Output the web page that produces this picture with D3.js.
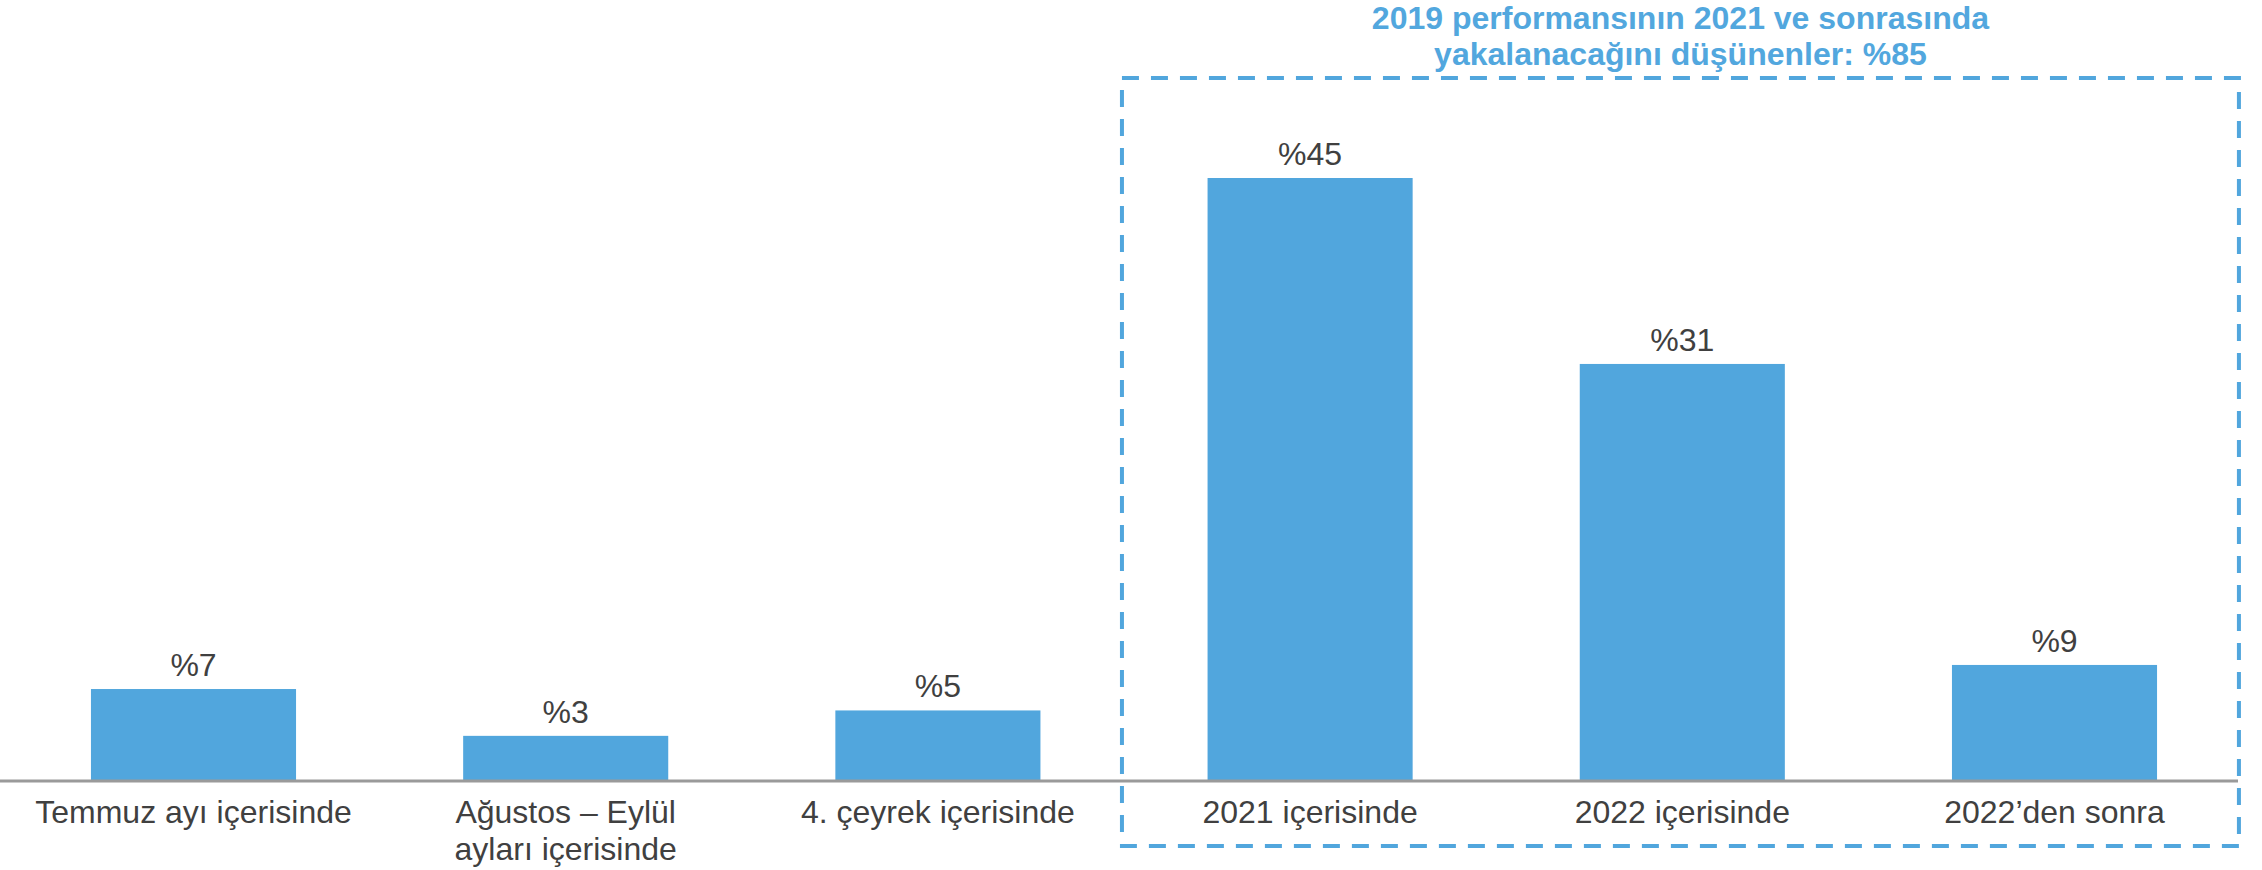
<!DOCTYPE html>
<meta charset="utf-8">
<style>

body {
  margin: 0;
  background: #fff;
}

.value,
.cat {
  font: 32px "Liberation Sans", Arial, sans-serif;
  fill: #404040;
  text-anchor: middle;
}

.title {
  font: bold 32px "Liberation Sans", Arial, sans-serif;
  fill: #52a7de;
  text-anchor: middle;
}

</style>
<svg width="2262" height="870"></svg>
<script src="https://d3js.org/d3.v7.min.js"></script>
<script>

var categories = [
  ["Temmuz ayı içerisinde"],
  ["Ağustos – Eylül", "ayları içerisinde"],
  ["4. çeyrek içerisinde"],
  ["2021 içerisinde"],
  ["2022 içerisinde"],
  ["2022’den sonra"]
];
var values = [6.8, 3.3, 5.2, 45, 31.1, 8.6];
var titleLines = ["2019 performansının 2021 ve sonrasında", "yakalanacağını düşünenler: %85"];

var svg = d3.select("svg"),
    baseline = 780,
    blue = "#51a6dd";

var x = d3.scaleBand()
    .domain(d3.range(categories.length))
    .range([7.4, 2240.6])
    .paddingInner(0.449)
    .paddingOuter(0.2245);

var y = d3.scaleLinear()
    .domain([0, 45])
    .range([baseline, 178]);

// bars
svg.append("g").selectAll("rect")
    .data(values)
  .enter().append("rect")
    .attr("x", function(d, i) { return x(i); })
    .attr("y", function(d) { return y(d); })
    .attr("width", x.bandwidth())
    .attr("height", function(d) { return baseline - y(d); })
    .attr("fill", blue);

// value labels
svg.append("g").selectAll("text")
    .data(values)
  .enter().append("text")
    .attr("class", "value")
    .attr("x", function(d, i) { return x(i) + x.bandwidth() / 2; })
    .attr("y", function(d) { return y(d) - 13; })
    .text(function(d) { return "%" + Math.round(d); });

// baseline
svg.append("line")
    .attr("x1", 0)
    .attr("x2", 2238)
    .attr("y1", baseline + 1)
    .attr("y2", baseline + 1)
    .attr("stroke", "#9a9a9a")
    .attr("stroke-width", 3);

// category labels
var cat = svg.append("g").selectAll("text")
    .data(categories)
  .enter().append("text")
    .attr("class", "cat")
    .attr("y", 823);

cat.selectAll("tspan")
    .data(function(d, i) { return d.map(function(s) { return {s: s, i: i}; }); })
  .enter().append("tspan")
    .attr("x", function(d) { return x(d.i) + x.bandwidth() / 2; })
    .attr("dy", function(d, j) { return j ? 37 : 0; })
    .text(function(d) { return d.s; });

// dashed box round the last three bars
var boxL = x(3) - x.step() * 0.23,
    boxR = x(5) + x.bandwidth() + x.step() * 0.22;

svg.append("rect")
    .attr("x", boxL)
    .attr("y", 78)
    .attr("width", boxR - boxL)
    .attr("height", 768)
    .attr("fill", "none")
    .attr("stroke", blue)
    .attr("stroke-width", 4)
    .attr("stroke-dasharray", "17 12");

svg.append("g").selectAll("text")
    .data(titleLines)
  .enter().append("text")
    .attr("class", "title")
    .attr("x", (boxL + boxR) / 2)
    .attr("y", function(d, i) { return 29 + i * 36; })
    .text(function(d) { return d; });

</script>
